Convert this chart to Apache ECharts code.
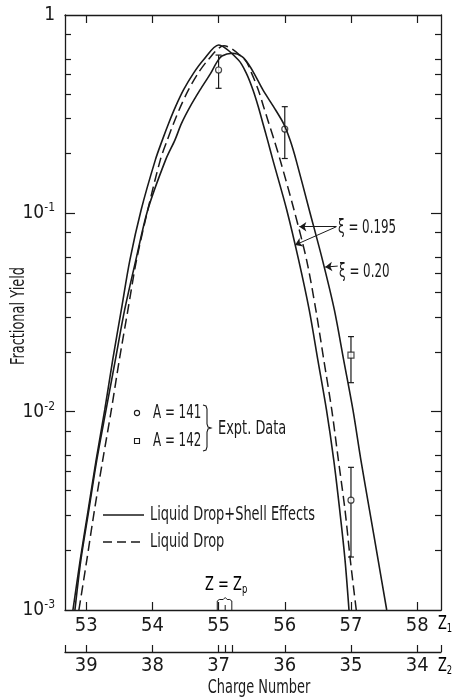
<!DOCTYPE html>
<html>
<head>
<meta charset="utf-8">
<script src="https://cdn.jsdelivr.net/npm/echarts@6/dist/echarts.min.js"></script>
<style>
  html, body { margin: 0; padding: 0; background: #fff; }
  #chart { width: 452px; height: 700px; }
</style>
</head>
<body>
<div id="chart"></div>
<script>
  const FONT = '"DejaVu Sans Condensed", "DejaVu Sans", sans-serif'
  const INK = '#1a1a1a'
  const NARROW = 0.72 // the original lettering is a very narrow face

  // axis ranges / ticks
  const z1Min = 52.68, z1Max = 58.36
  const z1Ticks = [53, 54, 55, 56, 57, 58]
  const z2Ticks = [39, 38, 37, 36, 35, 34]
  const z2Extra = [36.9, 36.8]
  const yMin = 0.001, yMax = 1
  const yMajor = [0.001, 0.01, 0.1, 1]
  const yMinor = [0.002, 0.003, 0.004, 0.005, 0.006, 0.008,
                  0.02, 0.03, 0.04, 0.05, 0.06, 0.08,
                  0.2, 0.3, 0.4, 0.5, 0.6, 0.8]

  // liquid drop + shell effects, xi = 0.195
  const shellZ = [52.80, 52.91, 53.03, 53.15, 53.28, 53.40, 53.53, 53.66, 53.83, 54.045, 54.15, 54.245, 54.35, 54.47, 54.62, 54.77, 55.00,
                  55.30, 55.42, 55.52, 55.60, 55.67, 55.74, 55.82, 56.03, 56.21, 56.37, 56.50, 56.63, 56.74, 56.83, 56.91, 56.97]
  const shellY = [0.001, 0.00179, 0.00319, 0.0057, 0.0102, 0.0182, 0.0325, 0.0581, 0.104, 0.186, 0.234, 0.284, 0.345, 0.419, 0.508, 0.593, 0.706,
                  0.593, 0.508, 0.419, 0.345, 0.284, 0.234, 0.186, 0.104, 0.0581, 0.0325, 0.0182, 0.0102, 0.0057, 0.00319, 0.00179, 0.001]
  // liquid drop only, xi = 0.195
  const dropZ = [52.89, 53.01, 53.125, 53.25, 53.38, 53.50, 53.63, 53.76, 53.93, 54.12, 54.225, 54.32, 54.425, 54.545, 54.69, 54.84, 55.08,
                 55.40, 55.50, 55.60, 55.68, 55.76, 55.84, 55.93, 56.14, 56.33, 56.47, 56.59, 56.71, 56.81, 56.91, 56.99, 57.08]
  const dropY = [0.001, 0.00179, 0.00319, 0.0057, 0.0102, 0.0182, 0.0325, 0.0581, 0.104, 0.186, 0.234, 0.284, 0.345, 0.419, 0.508, 0.593, 0.700,
                 0.593, 0.508, 0.419, 0.345, 0.284, 0.234, 0.186, 0.104, 0.0581, 0.0325, 0.0182, 0.0102, 0.0057, 0.00319, 0.00179, 0.001]
  // liquid drop + shell effects, xi = 0.20
  const shell20Z = [52.83, 52.92, 53.04, 53.16, 53.30, 53.44, 53.58, 53.75, 53.93, 54.20, 54.34, 54.44, 54.57, 54.72, 54.88, 54.97, 55.05, 55.21,
                    55.36, 55.46, 55.54, 55.67, 55.83, 55.98, 56.08, 56.17, 56.37, 56.57, 56.75, 56.89, 57.03, 57.15, 57.28, 57.41, 57.54]
  const shell20Y = [0.001, 0.00179, 0.00319, 0.0057, 0.0102, 0.0182, 0.0325, 0.0581, 0.104, 0.186, 0.234, 0.284, 0.345, 0.419, 0.508, 0.575, 0.621, 0.641,
                    0.615, 0.560, 0.505, 0.419, 0.345, 0.284, 0.234, 0.186, 0.104, 0.0581, 0.0325, 0.0182, 0.0102, 0.0057, 0.00319, 0.00179, 0.001]

  // experimental data
  const a141Z = [55, 56, 57]
  const a141Y = [0.528, 0.266, 0.00358]
  const a142Z = [57]
  const a142Y = [0.0193]
  const errZ = [55, 56, 57, 57]
  const errLo = [0.427, 0.189, 0.00185, 0.0140]
  const errHi = [0.628, 0.345, 0.00524, 0.0239]

  // Z = Zp bracket
  const zpMarks = [54.98, 55.10, 55.20]

  const zip = (xs, ys) => xs.map((x, i) => [x, ys[i]])

  const chart = echarts.init(document.getElementById('chart'))

  // narrow text helper for the lettering inside the figure
  const label = (text, x, y, opts) => Object.assign({
    type: 'text', x: x, y: y, scaleX: NARROW,
    style: { text: text, font: '20px ' + FONT, fill: INK, verticalAlign: 'middle' }
  }, opts || {})
  const subRich = {
    m: { fontFamily: FONT, fontSize: 20, color: INK },
    s: { fontFamily: FONT, fontSize: 13, color: INK, padding: [10, 0, 0, 0] }
  }
  const arrow = (from, to) => ({
    silent: true, symbol: ['none', 'arrow'], symbolSize: 7,
    label: { show: false }, lineStyle: { color: INK, width: 1, type: 'solid' },
    data: [[{ coord: from }, { coord: to }]]
  })

  const yBase = {
    type: 'log', min: yMin, max: yMax, logBase: 10,
    splitLine: { show: false },
    axisLine: { show: false }
  }

  const option = {
    animation: false,
    grid: { left: 65, right: 11, top: 15, bottom: 90, containLabel: false, outerBoundsMode: 'none' },
    xAxis: [
      {
        type: 'value', position: 'bottom', min: z1Min, max: z1Max,
        axisLine: { onZero: false, lineStyle: { color: INK, width: 1.3 } },
        axisTick: { inside: true, length: 8, lineStyle: { color: INK, width: 1.2 }, customValues: z1Ticks },
        axisLabel: { customValues: z1Ticks, color: INK, fontFamily: FONT, fontSize: 20, margin: 6 },
        splitLine: { show: false }
      },
      {
        type: 'value', position: 'top', min: z1Min, max: z1Max,
        axisLine: { onZero: false, lineStyle: { color: INK, width: 1.3 } },
        axisTick: { inside: true, length: 8, lineStyle: { color: INK, width: 1.2 }, customValues: z1Ticks },
        axisLabel: { show: false },
        splitLine: { show: false }
      },
      {
        type: 'value', position: 'bottom', offset: 42, inverse: true,
        min: 92 - z1Max, max: 92 - z1Min,
        axisLine: { onZero: false, lineStyle: { color: INK, width: 1.3 } },
        axisTick: { inside: true, length: 7, lineStyle: { color: INK, width: 1.2 },
          customValues: z2Ticks.concat(z2Extra, [92 - z1Max, 92 - z1Min]) },
        axisLabel: { customValues: z2Ticks, color: INK, fontFamily: FONT, fontSize: 20, margin: 4 },
        splitLine: { show: false }
      }
    ],
    yAxis: [
      Object.assign({}, yBase, {
        position: 'left',
        axisLine: { show: true, lineStyle: { color: INK, width: 1.3 } },
        axisTick: { inside: true, length: 10, lineStyle: { color: INK, width: 1.2 }, customValues: yMajor.slice(1, 3) },
        axisLabel: {
          customValues: yMajor, margin: 10,
          formatter: v => v >= 1 ? '{b|1}' : '{b|10}{s|' + Math.round(Math.log10(v)) + '}',
          rich: {
            b: { fontFamily: FONT, fontSize: 19, color: INK },
            s: { fontFamily: FONT, fontSize: 12, color: INK, padding: [0, 0, 10, 0] }
          }
        }
      }),
      Object.assign({}, yBase, {
        position: 'left',
        axisTick: { inside: true, length: 6, lineStyle: { color: INK, width: 1.2 }, customValues: yMinor },
        axisLabel: { show: false }
      }),
      Object.assign({}, yBase, {
        position: 'right',
        axisLine: { show: true, lineStyle: { color: INK, width: 1.3 } },
        axisTick: { inside: true, length: 10, lineStyle: { color: INK, width: 1.2 }, customValues: yMajor.slice(1, 3) },
        axisLabel: { show: false }
      }),
      Object.assign({}, yBase, {
        position: 'right',
        axisTick: { inside: true, length: 6, lineStyle: { color: INK, width: 1.2 }, customValues: yMinor },
        axisLabel: { show: false }
      })
    ],
    series: [
      {
        name: 'shell 0.195', type: 'line', data: zip(shellZ, shellY),
        showSymbol: false, smooth: 0.3, clip: true,
        lineStyle: { color: INK, width: 1.6 },
        markLine: arrow([56.78, 0.0856], [56.155, 0.0692])
      },
      {
        name: 'drop 0.195', type: 'line', data: zip(dropZ, dropY),
        showSymbol: false, smooth: 0.3, clip: true,
        lineStyle: { color: INK, width: 1.5, type: [10, 5] },
        markLine: arrow([56.78, 0.0856], [56.22, 0.0856])
      },
      {
        name: 'shell 0.20', type: 'line', data: zip(shell20Z, shell20Y),
        showSymbol: false, smooth: 0.3, clip: true,
        lineStyle: { color: INK, width: 1.6 },
        markLine: arrow([56.80, 0.0542], [56.61, 0.0536])
      },
      {
        name: 'error bars', type: 'custom',
        data: errZ.map((z, i) => [z, errLo[i], errHi[i]]),
        renderItem: (params, api) => {
          const lo = api.coord([api.value(0), api.value(1)])
          const hi = api.coord([api.value(0), api.value(2)])
          const w = 3
          const st = { stroke: INK, lineWidth: 1.2 }
          return {
            type: 'group', children: [
              { type: 'line', shape: { x1: lo[0], y1: lo[1], x2: hi[0], y2: hi[1] }, style: st },
              { type: 'line', shape: { x1: lo[0] - w, y1: lo[1], x2: lo[0] + w, y2: lo[1] }, style: st },
              { type: 'line', shape: { x1: hi[0] - w, y1: hi[1], x2: hi[0] + w, y2: hi[1] }, style: st }
            ]
          }
        }
      },
      {
        name: 'A = 141', type: 'scatter', data: zip(a141Z, a141Y),
        symbol: 'circle', symbolSize: 6,
        itemStyle: { color: '#fff', borderColor: INK, borderWidth: 1.2 }
      },
      {
        name: 'A = 142', type: 'scatter', data: zip(a142Z, a142Y),
        symbol: 'rect', symbolSize: 6,
        itemStyle: { color: '#fff', borderColor: INK, borderWidth: 1.2 }
      },
      {
        name: 'Zp', type: 'custom', data: [[zpMarks[1], yMin]], clip: false,
        renderItem: (params, api) => {
          const a = api.coord([zpMarks[0], yMin])
          const m = api.coord([zpMarks[1], yMin])
          const b = api.coord([zpMarks[2], yMin])
          const y = a[1]
          return {
            type: 'group', children: [
              {
                type: 'polyline',
                shape: { points: [[a[0], y], [a[0], y - 9], [a[0] + 2, y - 10.5], [m[0] - 2, y - 10.5], [m[0], y - 12.5],
                  [m[0] + 2, y - 10.5], [b[0] - 2, y - 10.5], [b[0], y - 9], [b[0], y]] },
                style: { stroke: INK, fill: null, lineWidth: 1 }
              },
              { type: 'line', shape: { x1: m[0], y1: y, x2: m[0], y2: y - 5 }, style: { stroke: INK, lineWidth: 1 } },
              {
                type: 'text', x: m[0] + 1, y: y - 25, scaleX: NARROW,
                style: {
                  x: 0, y: 0, align: 'center', verticalAlign: 'middle',
                  text: '{m|Z = Z}{s|p}', rich: subRich
                }
              }
            ]
          }
        }
      }
    ],
    graphic: [
      // axis titles
      label('Fractional Yield', 19, 316, { rotation: Math.PI / 2,
        style: { text: 'Fractional Yield', font: '20px ' + FONT, fill: INK, align: 'center', verticalAlign: 'middle' } }),
      label('Charge Number', 259, 688, {
        style: { text: 'Charge Number', font: '20px ' + FONT, fill: INK, align: 'center', verticalAlign: 'middle' } }),
      { type: 'text', x: 438, y: 624, scaleX: NARROW, style: { text: '{m|Z}{s|1}', rich: subRich, verticalAlign: 'middle' } },
      { type: 'text', x: 438, y: 666, scaleX: NARROW, style: { text: '{m|Z}{s|2}', rich: subRich, verticalAlign: 'middle' } },
      // data key
      { type: 'circle', shape: { cx: 137, cy: 413, r: 2.6 }, style: { fill: '#fff', stroke: INK, lineWidth: 1.1 } },
      label('A = 141', 153, 413, { scaleX: 0.66 }),
      { type: 'rect', shape: { x: 134.5, y: 438.5, width: 5, height: 5 }, style: { fill: '#fff', stroke: INK, lineWidth: 1.1 } },
      label('A = 142', 153, 441, { scaleX: 0.66 }),
      {
        type: 'polyline',
        shape: { points: [[203, 405], [206, 406], [207, 409], [207, 424], [208, 427], [211, 428], [208, 429], [207, 432], [207, 447], [206, 450], [203, 451]] },
        style: { stroke: INK, fill: null, lineWidth: 1.1 }
      },
      label('Expt. Data', 218, 429),
      // line key
      { type: 'line', shape: { x1: 103, y1: 515, x2: 144, y2: 515 }, style: { stroke: INK, lineWidth: 1.5 } },
      label('Liquid Drop+Shell Effects', 150, 515),
      { type: 'line', shape: { x1: 103, y1: 542, x2: 144, y2: 542 }, style: { stroke: INK, lineWidth: 1.5, lineDash: [9, 5] } },
      label('Liquid Drop', 150, 542),
      // xi labels
      label('ξ = 0.195', 338, 228, { scaleX: 0.66 }),
      label('ξ = 0.20', 339, 272, { scaleX: 0.66 })
    ]
  }

  option && chart.setOption(option)
</script>
</body>
</html>
